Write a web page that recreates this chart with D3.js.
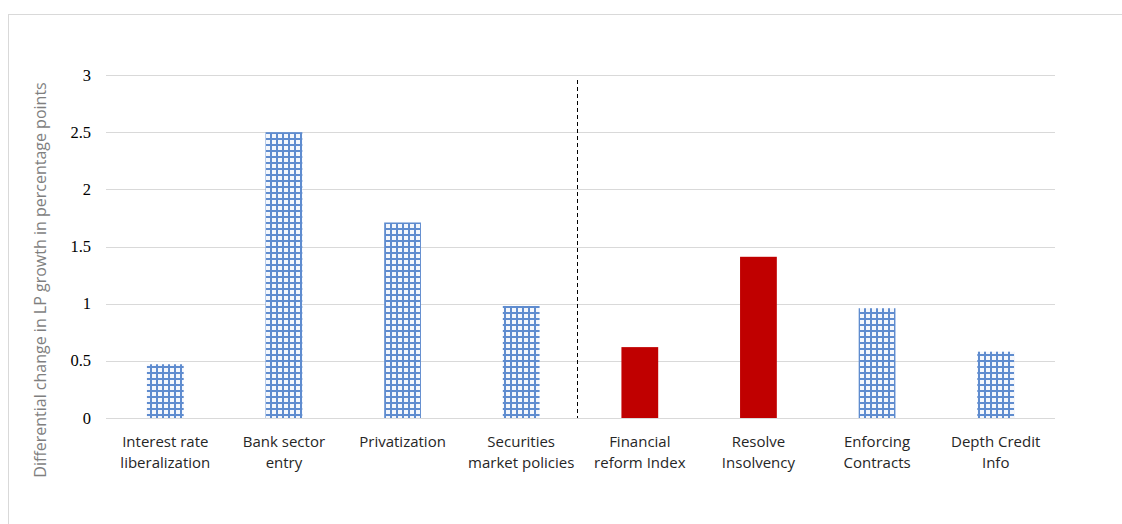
<!DOCTYPE html>
<meta charset="utf-8" />
<style>
  body { margin: 0; background: #fff; }
  .grid line { stroke: #d9d9d9; stroke-width: 1px; }
  .ytick { font-family: "Liberation Serif", "Times New Roman", serif; font-size: 16.5px; fill: #000; }
  .xlab { font-family: "Open Sans", "Noto Sans", sans-serif; font-size: 15px; fill: #262626; }
  .ytitle { font-family: "Open Sans", "Noto Sans", sans-serif; font-size: 16px; fill: #7f7f7f; }
</style>
<svg width="1122" height="524"></svg>
<script src="https://d3js.org/d3.v7.js"></script>
<script>
  var categories = [
    ["Interest rate", "liberalization"],
    ["Bank sector", "entry"],
    ["Privatization"],
    ["Securities", "market policies"],
    ["Financial", "reform Index"],
    ["Resolve", "Insolvency"],
    ["Enforcing", "Contracts"],
    ["Depth Credit", "Info"]
  ];
  var values = [0.47, 2.5, 1.71, 0.98, 0.62, 1.41, 0.96, 0.58];
  var solid = [false, false, false, false, true, true, false, false];
  var yTicks = [0, 0.5, 1, 1.5, 2, 2.5, 3];

  var svg = d3.select("svg");

  // outer chart border
  svg.append("rect")
    .attr("x", 8.5).attr("y", 14.5)
    .attr("width", 1130).attr("height", 530)
    .attr("fill", "none").attr("stroke", "#d9d9d9");

  var defs = svg.append("defs");
  var pat = defs.append("pattern")
    .attr("id", "grid")
    .attr("patternUnits", "userSpaceOnUse")
    .attr("width", 6).attr("height", 6);
  pat.append("rect").attr("width", 6).attr("height", 6).attr("fill", "#f4f7fc");
  pat.append("rect").attr("x", 0).attr("y", 0).attr("width", 2).attr("height", 6).attr("fill", "#5f8ccf");
  pat.append("rect").attr("x", 0).attr("y", 0).attr("width", 6).attr("height", 2).attr("fill", "#5f8ccf");

  var x = d3.scaleBand()
    .domain(d3.range(categories.length))
    .range([106, 1055])
    .paddingInner(0.69)
    .paddingOuter(0.345);

  var y = d3.scaleLinear().domain([0, 3]).range([418, 75]);

  var grid = svg.append("g").attr("class", "grid");
  grid.selectAll("line").data(yTicks).enter().append("line")
    .attr("x1", 106).attr("x2", 1055)
    .attr("y1", function (d) { return Math.round(y(d)) + 0.5; })
    .attr("y2", function (d) { return Math.round(y(d)) + 0.5; });

  svg.append("g").selectAll("text").data(yTicks).enter().append("text")
    .attr("class", "ytick")
    .attr("x", 91)
    .attr("y", function (d) { return y(d) + 5.5; })
    .attr("text-anchor", "end")
    .text(function (d) { return d; });

  svg.append("g").selectAll("rect").data(values).enter().append("rect")
    .attr("x", function (d, i) { return x(i); })
    .attr("width", x.bandwidth())
    .attr("y", function (d) { return y(d); })
    .attr("height", function (d) { return y(0) - y(d); })
    .attr("fill", function (d, i) { return solid[i] ? "#c00000" : "url(#grid)"; });

  // dashed separator between the two groups
  var sepX = (x(3) + x.bandwidth() + x(4)) / 2 - 3;
  svg.append("line")
    .attr("x1", sepX).attr("x2", sepX)
    .attr("y1", 80).attr("y2", 418)
    .attr("stroke", "#000").attr("stroke-width", 1)
    .attr("stroke-dasharray", "4,3");

  var labs = svg.append("g").selectAll("text").data(categories).enter().append("text")
    .attr("class", "xlab")
    .attr("text-anchor", "middle")
    .attr("x", function (d, i) { return x(i) + x.bandwidth() / 2; })
    .attr("y", 447);
  labs.selectAll("tspan").data(function (d) { return d; }).enter().append("tspan")
    .attr("x", function () { return d3.select(this.parentNode).attr("x"); })
    .attr("dy", function (d, i) { return i ? 21 : 0; })
    .text(function (d) { return d; });

  svg.append("text")
    .attr("class", "ytitle")
    .attr("transform", "translate(46,280) rotate(-90)")
    .attr("text-anchor", "middle")
    .text("Differential change in LP growth in percentage points");
</script>
